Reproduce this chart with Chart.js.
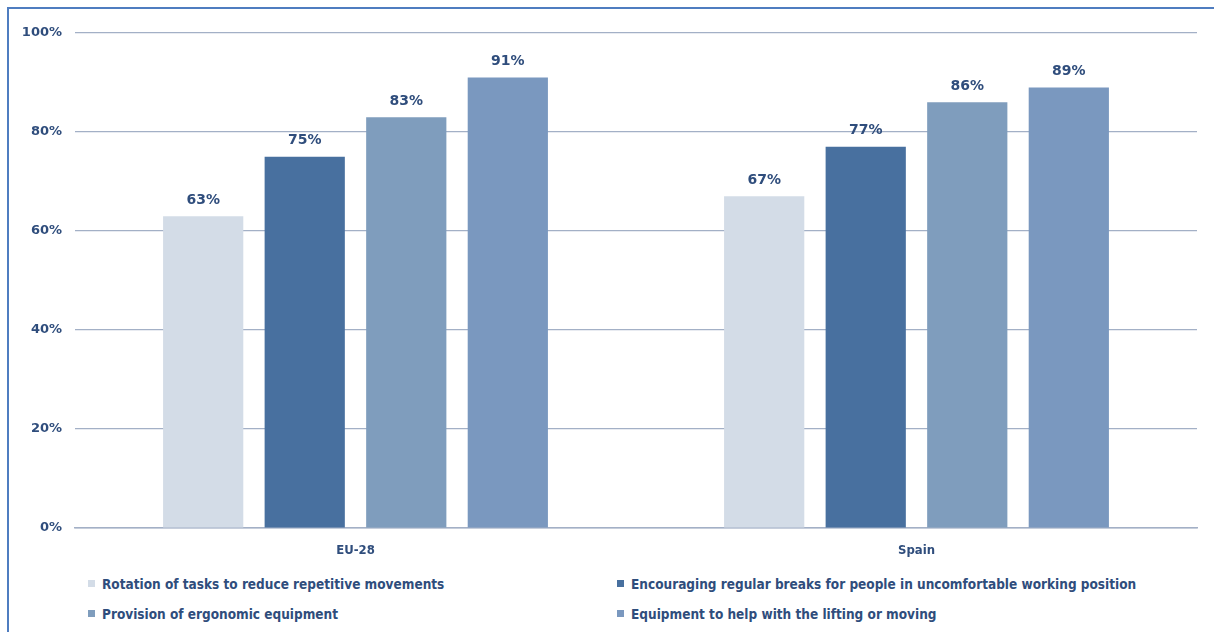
<!DOCTYPE html>
<html>
<head>
<meta charset="utf-8">
<script src="https://cdn.jsdelivr.net/npm/chart.js@4.4.1/dist/chart.umd.min.js"></script>
<style>
  body { margin: 0; background: #fff; width: 1214px; height: 632px; overflow: hidden; position: relative; }
  .frame { position: absolute; left: 7px; top: 7px; width: 1220px; height: 640px;
           border-left: 2px solid #4f7dc0; border-top: 2px solid #4f7dc0; }
  #wrap { position: absolute; left: 0; top: 0; width: 1214px; height: 560px; }
  .legend { position: absolute; left: 88px; top: 576px; display: grid;
            grid-template-columns: 529px 560px; row-gap: 14px;
            font: bold 13.5px "DejaVu Sans Condensed", "DejaVu Sans", sans-serif; color: #2f4d7c; }
  .legend span.box { display: inline-block; width: 7px; height: 7px; margin-right: 7px; vertical-align: 2px; }
</style>
</head>
<body>
<div class="frame"></div>
<div id="wrap"><canvas id="chart"></canvas></div>
<div class="legend" id="legend"></div>
<script>

// Data

const categories = ["EU-28", "Spain"];
const seriesNames = [
  "Rotation of tasks to reduce repetitive movements",
  "Encouraging regular breaks for people in uncomfortable working position",
  "Provision of ergonomic equipment",
  "Equipment to help with the lifting or moving"
];
const rotation = [63, 67];
const breaks = [75, 77];
const ergonomic = [83, 86];
const lifting = [91, 89];
const yTicks = ["0%", "20%", "40%", "60%", "80%", "100%"];

const colors = ["#d3dce7", "#48709f", "#7f9dbd", "#7a98bf"];
const textColor = "#2f4d7c";

// value labels on top of the bars
const barLabels = {
  id: "barLabels",
  afterDatasetsDraw(chart) {
    const ctx = chart.ctx;
    ctx.save();
    ctx.font = "bold 14px 'DejaVu Sans', sans-serif";
    ctx.fillStyle = textColor;
    ctx.textAlign = "center";
    ctx.textBaseline = "bottom";
    chart.data.datasets.forEach((ds, i) => {
      chart.getDatasetMeta(i).data.forEach((bar, j) => {
        ctx.fillText(ds.data[j] + "%", bar.x, bar.y - 9);
      });
    });
    ctx.restore();
  }
};

const chart = new Chart(document.querySelector("#chart").getContext("2d"), {
  type: "bar",
  data: {
    labels: categories,
    datasets: [rotation, breaks, ergonomic, lifting].map((d, i) => ({
      label: seriesNames[i],
      data: d,
      backgroundColor: colors[i],
      categoryPercentage: 0.724,
      barPercentage: 0.79
    }))
  },
  options: {
    responsive: true,
    maintainAspectRatio: false,
    animation: false,
    layout: { padding: { top: 33, right: 17, left: 0, bottom: 0 } },
    plugins: {
      legend: { display: false },
      tooltip: { enabled: false }
    },
    scales: {
      x: {
        grid: { display: false },
        border: { color: "#a3b0c6", width: 1.5 },
        ticks: { color: textColor, padding: 7, font: { family: "'DejaVu Sans Condensed', sans-serif", size: 13, weight: "bold" } },
        afterFit: (scale) => { scale.height = 32; }
      },
      y: {
        min: 0,
        max: 100,
        ticks: {
          stepSize: 20,
          padding: 13,
          color: textColor,
          font: { family: "'DejaVu Sans', sans-serif", size: 13, weight: "bold" },
          callback: (v) => yTicks[v / 20]
        },
        grid: { color: "#a3b0c6", lineWidth: 1.2, drawTicks: false },
        border: { display: false },
        afterFit: (scale) => { scale.width = 75; }
      }
    }
  },
  plugins: [barLabels]
});

// Legend in two columns

const legendEl = document.querySelector("#legend");
seriesNames.forEach((name, i) => {
  const item = document.createElement("div");
  item.innerHTML = '<span class="box" style="background:' + colors[i] + '"></span>' + name;
  legendEl.appendChild(item);
});
</script>
</body>
</html>
